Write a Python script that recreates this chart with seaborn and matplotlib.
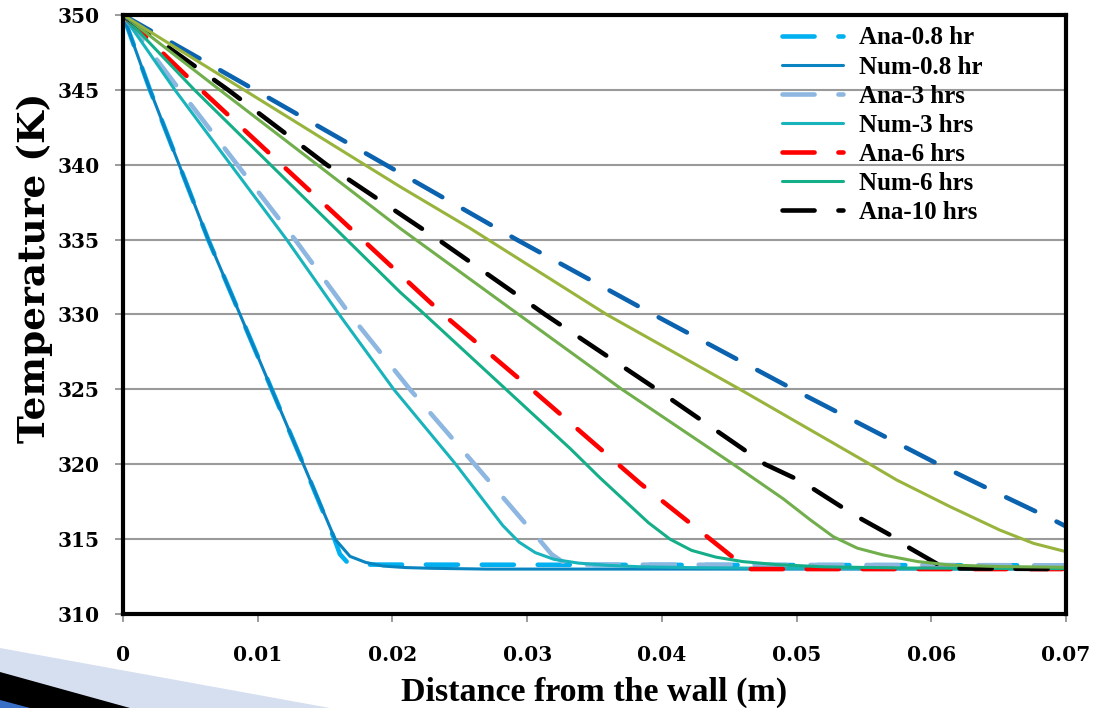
import matplotlib
matplotlib.use("Agg")
import matplotlib.pyplot as plt
from matplotlib.patches import Polygon
import seaborn as sns
import pandas as pd

# ---- temperature profiles: distance from wall (m) vs temperature (K) ----
ana_08_x = [0, 0.0020, 0.00633, 0.00869, 0.01104, 0.01339, 0.01574, 0.0161, 0.0166, 0.0173, 0.07]
ana_08_t = [350, 345, 335, 330, 325, 320, 314.9, 314.0, 313.5, 313.3, 313.25]

num_08_x = [0, 0.0020, 0.00633, 0.00869, 0.01104, 0.01339, 0.01574, 0.01685, 0.0180, 0.01932, 0.0210, 0.0230, 0.027, 0.07]
num_08_t = [350, 345, 335, 330, 325, 320, 315.0, 313.85, 313.45, 313.2, 313.1, 313.05, 313.0, 313.0]

ana_3_x = [0, 0.0042, 0.01277, 0.01685, 0.0213, 0.0261, 0.0311, 0.0318, 0.0326, 0.0338, 0.07]
ana_3_t = [350, 345, 335, 330, 325, 320, 314.75, 314.0, 313.5, 313.3, 313.25]

num_3_x = [0, 0.00385, 0.01215, 0.01605, 0.0201, 0.0247, 0.0282, 0.0294, 0.0306, 0.0320, 0.0338, 0.0360, 0.0385, 0.042, 0.048, 0.07]
num_3_t = [350, 345, 335, 330, 325, 320, 315.9, 314.8, 314.1, 313.65, 313.4, 313.25, 313.15, 313.1, 313.05, 313.0]

ana_6_x = [0, 0.0058, 0.01178, 0.02378, 0.03034, 0.03838, 0.04444, 0.0458, 0.0463, 0.07]
ana_6_t = [350, 345, 340, 330, 325, 318.73, 314.39, 313.4, 313.0, 313.0]

num_6_x = [0, 0.0053, 0.02056, 0.0224, 0.02843, 0.03318, 0.0354, 0.0390, 0.0406, 0.0422, 0.0440, 0.0460, 0.0485, 0.0520, 0.058, 0.07]
num_6_t = [350, 345, 331.5, 330, 325, 321.06, 319.1, 316.1, 315.0, 314.25, 313.8, 313.5, 313.3, 313.15, 313.07, 313.03]

ana_10_x = [0, 0.0078, 0.01512, 0.0234, 0.03133, 0.03962, 0.04766, 0.0504, 0.0543, 0.0571, 0.0584, 0.0610, 0.07]
ana_10_t = [350, 345, 340, 335, 330, 325, 320, 318.84, 316.6, 315.2, 314.4, 313.05, 313.0]

num_10_x = [0, 0.00718, 0.02056, 0.02937, 0.03704, 0.0453, 0.0490, 0.0510, 0.05273, 0.05450, 0.05644, 0.0590, 0.0614, 0.0650, 0.07]
num_10_t = [350, 345, 335.76, 330, 325, 320, 317.7, 316.3, 315.16, 314.4, 313.94, 313.5, 313.27, 313.17, 313.12]

ana_15_x = [0, 0.00978, 0.02922, 0.03937, 0.04976, 0.06052, 0.06461, 0.0688, 0.07]
ana_15_t = [350, 345, 335, 330, 325, 320, 318.2, 316.4, 315.85]

num_15_x = [0, 0.00898, 0.02056, 0.02576, 0.0359, 0.0458, 0.05545, 0.05743, 0.06139, 0.0651, 0.06758, 0.07]
num_15_t = [350, 345, 338.54, 335.76, 330, 325, 320, 318.95, 317.17, 315.6, 314.72, 314.16]

series_names = ["Ana-0.8 hr", "Num-0.8 hr", "Ana-3 hrs", "Num-3 hrs", "Ana-6 hrs",
                "Num-6 hrs", "Ana-10 hrs", "Num-10 hrs", "Ana-15 hrs", "Num-15 hrs"]
series_x = [ana_08_x, num_08_x, ana_3_x, num_3_x, ana_6_x, num_6_x, ana_10_x, num_10_x, ana_15_x, num_15_x]
series_t = [ana_08_t, num_08_t, ana_3_t, num_3_t, ana_6_t, num_6_t, ana_10_t, num_10_t, ana_15_t, num_15_t]
series_colors = ["#00B0F0", "#0A84C0", "#8DB7E0", "#19B3BC", "#FF0000",
                 "#14AE88", "#000000", "#71AE4C", "#0B62AE", "#98B43C"]
legend_count = 7

x_ticks = [0, 0.01, 0.02, 0.03, 0.04, 0.05, 0.06, 0.07]
x_tick_labels = ["0", "0.01", "0.02", "0.03", "0.04", "0.05", "0.06", "0.07"]
y_ticks = [310, 315, 320, 325, 330, 335, 340, 345, 350]

sns.set_theme(style="white")
plt.rcParams["font.family"] = ["Liberation Serif", "DejaVu Serif"]
plt.rcParams["font.weight"] = "bold"
TICK_FONT = ["DejaVu Serif", "Liberation Serif"]

fig = plt.figure(figsize=(10.96, 7.08), dpi=100)
fig.patch.set_facecolor("white")

# slide decoration in the lower-left corner
fig.patches.append(Polygon([(0, 0), (0, 60 / 708), (330 / 1096, 0)], closed=True,
                           transform=fig.transFigure, facecolor="#D6DFF0", edgecolor="none", zorder=0))
fig.patches.append(Polygon([(0, 0), (0, 36 / 708), (130 / 1096, 0)], closed=True,
                           transform=fig.transFigure, facecolor="#000000", edgecolor="none", zorder=0))
fig.patches.append(Polygon([(0, 0), (0, 8 / 708), (30 / 1096, 0)], closed=True,
                           transform=fig.transFigure, facecolor="#3A6FC8", edgecolor="none", zorder=0))

ax = fig.add_axes([123 / 1096, 1 - 614 / 708, 943 / 1096, 599 / 708])

for name, xs, ts, col in zip(series_names, series_x, series_t, series_colors):
    df = pd.DataFrame({"x": xs, "t": ts})
    if name.startswith("Ana"):
        sns.lineplot(data=df, x="x", y="t", ax=ax, color=col, sort=False, estimator=None,
                     linewidth=3.3, linestyle=(0, (7, 5.2)), dash_capstyle="round", label=name)
    else:
        sns.lineplot(data=df, x="x", y="t", ax=ax, color=col, sort=False, estimator=None,
                     linewidth=2.2, solid_capstyle="round", solid_joinstyle="round", label=name)

ax.set_xlim(0, 0.07)
ax.set_ylim(310, 350)
ax.set_xticks(x_ticks)
ax.set_xticklabels(x_tick_labels)
ax.set_yticks(y_ticks)
ax.set_yticklabels([str(v) for v in y_ticks])

ax.yaxis.grid(True, color="#9A9A9A", linewidth=1.5)
ax.xaxis.grid(False)
ax.set_axisbelow(True)

for side in ["top", "right", "left", "bottom"]:
    ax.spines[side].set_visible(True)
    ax.spines[side].set_color("black")
    ax.spines[side].set_linewidth(3)

ax.tick_params(axis="both", which="major", direction="out", length=6, width=1.2,
               color="#8A8A8A", labelcolor="black")
ax.tick_params(axis="x", pad=16, bottom=True)
ax.tick_params(axis="y", pad=11, left=True)
for lab in ax.get_xticklabels() + ax.get_yticklabels():
    lab.set_fontweight("bold")
    lab.set_family(TICK_FONT)
    lab.set_fontsize(14.5)

ax.set_xlabel("Distance from the wall (m)", fontsize=24.5, fontweight="bold", color="black")
ax.set_ylabel("Temperature (K)", fontsize=27, fontweight="bold", color="black",
              family=["DejaVu Serif", "Liberation Serif"])
ax.xaxis.set_label_coords(0.5, -0.105)
ax.yaxis.set_label_coords(-0.074, 0.578)

handles = ax.lines[:legend_count]
leg = ax.legend(handles=handles, labels=series_names[:legend_count], loc="upper left",
                bbox_to_anchor=(0.699, 0.981), frameon=False, fontsize=18,
                handlelength=2.45, handletextpad=0.62, labelspacing=0.245, borderpad=0,
                borderaxespad=0)
for txt in leg.get_texts():
    txt.set_fontweight("bold")
    txt.set_color("black")

fig.savefig("out.png", dpi=100, facecolor="white")
